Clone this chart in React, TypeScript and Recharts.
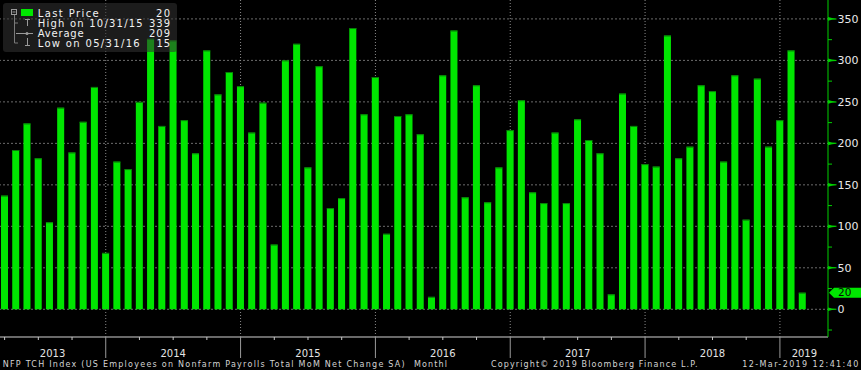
import React from "react";
import { BarChart, Bar, XAxis, YAxis, ReferenceLine, CartesianGrid } from "recharts";

// NFP TCH Index, monthly change (thousands), Mar 2013 – Feb 2019
const YEARS = [2013, 2014, 2015, 2016, 2017, 2018, 2019];
const FIRST_MONTH = 3; // series starts in March 2013
const NFP_2013 = [137, 192, 224, 182, 105, 243, 189, 226, 268, 68];
const NFP_2014 = [178, 169, 250, 326, 221, 324, 228, 188, 312, 259, 286, 269];
const NFP_2015 = [213, 249, 78, 300, 320, 171, 293, 122, 134, 339, 235, 280];
const NFP_2016 = [91, 233, 235, 211, 15, 282, 336, 135, 270, 129, 171, 216];
const NFP_2017 = [252, 141, 128, 213, 128, 229, 204, 188, 18, 260, 221, 175];
const NFP_2018 = [172, 330, 182, 196, 270, 263, 178, 282, 108, 278, 196, 228];
const NFP_2019 = [312, 20];
const SERIES = [NFP_2013, NFP_2014, NFP_2015, NFP_2016, NFP_2017, NFP_2018, NFP_2019];

const Y_TICKS = [-25, 0, 25, 50, 75, 100, 125, 150, 175, 200, 225, 250, 275, 300, 325, 350];
const Y_GRID = [0, 50, 100, 150, 200, 250, 300, 350];

const FOOTER_TITLE = "NFP TCH Index (US Employees on Nonfarm Payrolls Total MoM Net Change SA)";
const FOOTER_FREQ = "Monthl";
const FOOTER_COPY = "Copyright\u00a9 2019 Bloomberg Finance L.P.";
const FOOTER_STAMP = "12-Mar-2019 12:41:40";

const pad2 = (n: number) => String(n).padStart(2, "0");

const data = YEARS.flatMap((year, i) =>
  SERIES[i].map((value, j) => ({
    month: `${year}-${pad2((i === 0 ? FIRST_MONTH : 1) + j)}`,
    value,
  }))
);

const YEAR_LINES = data.filter((d) => d.month.endsWith("-12")).map((d) => d.month);

const monthEnd = (key: string) => {
  const [y, m] = key.split("-").map(Number);
  const day = new Date(y, m, 0).getDate();
  return `${pad2(m)}/${pad2(day)}/${String(y).slice(2)}`;
};

const last = data[data.length - 1];
const high = data.reduce((a, b) => (b.value > a.value ? b : a));
const low = data.reduce((a, b) => (b.value < a.value ? b : a));
const avg = Math.round(data.reduce((s, d) => s + d.value, 0) / data.length);

const GREEN = "#00e600";
const AXIS_GREEN = "#00d000";
const CHART_W = 863;
const CHART_H = 370;
const Y_AXIS_W = 34;
const X_AXIS_H = 33;
const PLOT_RIGHT = CHART_W - Y_AXIS_W;
const PLOT_BOTTOM = CHART_H - X_AXIS_H;
const FONT = "'DejaVu Sans', sans-serif";

const firstYear = YEARS[0];
const lastYear = YEARS[YEARS.length - 1];

function yearLabelSpot(year: number) {
  if (year === firstYear) return { month: 7, dx: 3 };
  if (year === lastYear) return { month: SERIES[SERIES.length - 1].length, dx: 2 };
  return { month: 6, dx: 0 };
}

function MonthTick(props: any) {
  const { x, payload } = props;
  const [ys, ms] = String(payload.value).split("-");
  const year = Number(ys);
  const mo = Number(ms);
  const spot = yearLabelSpot(year);
  const y0 = PLOT_BOTTOM;
  return (
    <g>
      {(mo === 3 || mo === 6 || mo === 9) && (
        <line x1={x} x2={x} y1={y0} y2={y0 + 3} stroke="#c8c8c8" strokeWidth={1} />
      )}
      {mo === 12 && <line x1={x} x2={x} y1={y0} y2={y0 + 21} stroke="#9a9a9a" strokeWidth={1} />}
      {spot.month === mo && (
        <text x={x + spot.dx} y={y0 + 20} textAnchor="middle" fill="#e4e4e4" fontSize={10} fontFamily={FONT}>
          {ys}
        </text>
      )}
    </g>
  );
}

function ValueTick(props: any) {
  const { y, payload } = props;
  const v = payload.value;
  const ax = PLOT_RIGHT;
  if (v % 50 !== 0) {
    return <line x1={ax} x2={ax + 4} y1={y} y2={y} stroke={AXIS_GREEN} strokeWidth={1} />;
  }
  return (
    <g>
      <polygon
        points={`${ax},${y - 1.8} ${ax + 4},${y - 0.8} ${ax + 8.5},${y - 0.5} ${ax + 8.5},${y + 0.5} ${ax + 4},${y + 0.8} ${ax},${y + 1.8}`}
        fill={AXIS_GREEN}
      />
      <text x={ax + 9.5} y={y} dy="0.36em" fill="#e8e8e8" fontSize={11} fontFamily={FONT}>
        {v}
      </text>
    </g>
  );
}

function BarShape(props: any) {
  const { x, y, width, height, fill } = props;
  if (!height || height <= 0) return null;
  return (
    <g>
      <rect x={x} y={y} width={width} height={height} fill={fill} />
      <rect x={x} y={y} width={width} height={1} fill="#0a7a0a" />
    </g>
  );
}

function LastTag(props: any) {
  const vb = props.viewBox || {};
  const y = vb.y ?? 0;
  const x0 = PLOT_RIGHT + 1;
  return (
    <g>
      <polygon
        points={`${x0},${y} ${x0 + 5},${y - 5} ${CHART_W},${y - 5} ${CHART_W},${y + 5} ${x0 + 5},${y + 5}`}
        fill={GREEN}
      />
      <text x={x0 + 9} y={y} dy="0.36em" fill="#0a0a0a" fontSize={10.5} fontFamily={FONT}>
        {last.value}
      </text>
    </g>
  );
}

function LegendBox() {
  const grey = "#9a9a9a";
  const rows = [
    { label: "Last Price", labelW: 61, value: String(last.value), valueW: 14 },
    { label: `High on ${monthEnd(high.month)}`, labelW: 105, value: String(high.value), valueW: 21 },
    { label: "Average", labelW: 46, value: String(avg), valueW: 21 },
    { label: `Low on ${monthEnd(low.month)}`, labelW: 102, value: String(low.value), valueW: 13.5 },
  ];
  return (
    <svg width={861} height={60} style={{ position: "absolute", left: 0, top: 0 }}>
      <rect x={3} y={3} width={174} height={49} rx={3} fill="rgba(50,50,50,0.56)" />
      {/* tree icons */}
      <rect x={11.5} y={9.5} width={5} height={5} fill="none" stroke={grey} strokeWidth={1} />
      <line x1={12.5} x2={15.5} y1={12} y2={12} stroke={grey} />
      <rect x={21} y={9} width={12} height={7} fill={GREEN} />
      <line x1={14.5} x2={14.5} y1={15} y2={43} stroke="#7a7a7a" />
      <line x1={14.5} x2={18} y1={23} y2={23} stroke="#7a7a7a" />
      <line x1={14.5} x2={18} y1={43} y2={43} stroke="#7a7a7a" />
      <line x1={25} x2={30} y1={19.5} y2={19.5} stroke={grey} />
      <line x1={27.5} x2={27.5} y1={19.5} y2={26} stroke={grey} />
      <line x1={16} x2={33} y1={33.5} y2={33.5} stroke={grey} />
      <circle cx={27} cy={33.5} r={1.5} fill={grey} />
      <line x1={27.5} x2={27.5} y1={38} y2={45} stroke={grey} />
      <line x1={25} x2={30} y1={45.5} y2={45.5} stroke={grey} />
      {rows.map((r, i) => (
        <g key={r.label} fontFamily={FONT} fontSize={10} fill="#f2f2f2">
          <text x={37.7} y={16.7 + i * 10} textLength={r.labelW} lengthAdjust="spacing">
            {r.label}
          </text>
          <text x={170 - r.valueW} y={16.7 + i * 10} textLength={r.valueW} lengthAdjust="spacing">
            {r.value}
          </text>
        </g>
      ))}
    </svg>
  );
}

function Footer() {
  return (
    <svg width={861} height={14} style={{ position: "absolute", left: 0, top: 356 }}>
      <g fontFamily={FONT} fontSize={8} fill="#d4d4d4">
        <text x={2.7} y={10.8} textLength={402} lengthAdjust="spacing">
          {FOOTER_TITLE}
        </text>
        <text x={414} y={10.8} textLength={33} lengthAdjust="spacing">
          {FOOTER_FREQ}
        </text>
        <text x={491} y={10.8} textLength={206.5} lengthAdjust="spacing">
          {FOOTER_COPY}
        </text>
        <text x={742.3} y={10.8} textLength={116} lengthAdjust="spacing">
          {FOOTER_STAMP}
        </text>
      </g>
    </svg>
  );
}

export default function App() {
  return (
    <div
      style={{
        position: "fixed",
        left: 0,
        top: 0,
        width: 861,
        height: 370,
        background: "#000",
        overflow: "hidden",
      }}
    >
      <div style={{ position: "absolute", left: -1.4, top: 0 }}>
        <BarChart width={CHART_W} height={CHART_H} data={data} margin={{ top: 0, right: 0, bottom: 0, left: 0 }}>
          <CartesianGrid vertical={false} horizontalValues={Y_GRID} stroke="#6c6c6c" strokeDasharray="2 2" />
          <CartesianGrid horizontal={false} verticalValues={YEAR_LINES} stroke="#8a8a8a" strokeDasharray="1 2" />
          <XAxis
            dataKey="month"
            interval={0}
            height={X_AXIS_H}
            padding={{ left: 0, right: 20 }}
            axisLine={{ stroke: "#8c8c8c", strokeWidth: 1.5 }}
            tickLine={false}
            tick={<MonthTick />}
          />
          <YAxis
            orientation="right"
            width={Y_AXIS_W}
            domain={[-33.4, 372.8]}
            ticks={Y_TICKS}
            interval={0}
            axisLine={{ stroke: AXIS_GREEN, strokeWidth: 1 }}
            tickLine={false}
            tick={<ValueTick />}
          />
          <Bar dataKey="value" fill={GREEN} barSize={7} isAnimationActive={false} shape={<BarShape />} />
          <ReferenceLine y={last.value} stroke="none" label={<LastTag />} />
        </BarChart>
      </div>
      <LegendBox />
      <Footer />
    </div>
  );
}
